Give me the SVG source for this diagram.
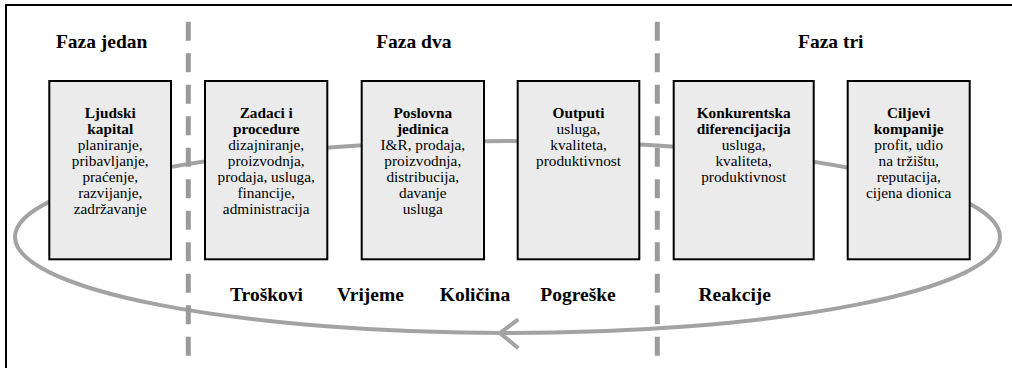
<svg xmlns="http://www.w3.org/2000/svg" width="1012" height="368" viewBox="0 0 1012 368">
<style>
.box{fill:#ebebeb;stroke:#000;stroke-width:2}
text{font-family:'Liberation Serif','Tinos','Times New Roman','DejaVu Serif',serif;fill:#000;text-anchor:middle}
.t{font-size:15.3px}
.b{font-weight:bold}
.h{font-size:19.5px;font-weight:bold}
.loop{fill:none;stroke:#a3a3a3;stroke-width:4}
.dash{stroke:#9a9a9a;stroke-width:5;stroke-dasharray:19 12.5}
</style>
<rect x="6" y="5" width="1012" height="372" fill="#fff" stroke="#000" stroke-width="2"/>
<g id="connectors">
<ellipse class="loop" cx="507.5" cy="237" rx="492.5" ry="96"/>
<polyline class="loop" points="518.3,319.3 500,333 518.3,348.3"/>
</g>
<g id="dividers">
<line class="dash" x1="188.3" y1="21.7" x2="188.3" y2="357"/>
<line class="dash" x1="657.3" y1="21.7" x2="657.3" y2="357"/>
</g>
<g id="headings">
<text class="h" x="101.7" y="48.3" font-family="Liberation Serif, serif">Faza jedan</text>
<text class="h" x="413.8" y="48.3" font-family="Liberation Serif, serif">Faza dva</text>
<text class="h" x="830.8" y="48.3" font-family="Liberation Serif, serif">Faza tri</text>
</g>
<g id="node-ljudski-kapital">
<rect class="box" x="49.3" y="81" width="121.7" height="178.3"/>
<text class="t" x="110.2"><tspan class="b" x="110.2" y="118.3">Ljudski</tspan><tspan class="b" x="110.2" y="134.3">kapital</tspan><tspan x="110.2" y="150.3">planiranje,</tspan><tspan x="110.2" y="166.3">pribavljanje,</tspan><tspan x="110.2" y="182.3">praćenje,</tspan><tspan x="110.2" y="198.3">razvijanje,</tspan><tspan x="110.2" y="214.3">zadržavanje</tspan></text>
</g>
<g id="node-zadaci">
<rect class="box" x="205" y="81" width="122.3" height="178.3"/>
<text class="t" x="266.2"><tspan class="b" x="266.2" y="118.3">Zadaci i</tspan><tspan class="b" x="266.2" y="134.3">procedure</tspan><tspan x="266.2" y="150.3">dizajniranje,</tspan><tspan x="266.2" y="166.3">proizvodnja,</tspan><tspan x="266.2" y="182.3">prodaja, usluga,</tspan><tspan x="266.2" y="198.3">financije,</tspan><tspan x="266.2" y="214.3">administracija</tspan></text>
</g>
<g id="node-poslovna-jedinica">
<rect class="box" x="361.7" y="81" width="122.3" height="178.3"/>
<text class="t" x="422.8"><tspan class="b" x="422.8" y="118.3">Poslovna</tspan><tspan class="b" x="422.8" y="134.3">jedinica</tspan><tspan x="422.8" y="150.3">I&amp;R, prodaja,</tspan><tspan x="422.8" y="166.3">proizvodnja,</tspan><tspan x="422.8" y="182.3">distribucija,</tspan><tspan x="422.8" y="198.3">davanje</tspan><tspan x="422.8" y="214.3">usluga</tspan></text>
</g>
<g id="node-outputi">
<rect class="box" x="517.7" y="81" width="121.6" height="178.3"/>
<text class="t" x="578.5"><tspan class="b" x="578.5" y="118.3">Outputi</tspan><tspan x="578.5" y="134.3">usluga,</tspan><tspan x="578.5" y="150.3">kvaliteta,</tspan><tspan x="578.5" y="166.3">produktivnost</tspan></text>
</g>
<g id="node-konkurentska">
<rect class="box" x="673.7" y="81" width="140" height="178.3"/>
<text class="t" x="743.7"><tspan class="b" x="743.7" y="118.3">Konkurentska</tspan><tspan class="b" x="743.7" y="134.3">diferencijacija</tspan><tspan x="743.7" y="150.3">usluga,</tspan><tspan x="743.7" y="166.3">kvaliteta,</tspan><tspan x="743.7" y="182.3">produktivnost</tspan></text>
</g>
<g id="node-ciljevi">
<rect class="box" x="847.7" y="81" width="122" height="178.3"/>
<text class="t" x="908.7"><tspan class="b" x="908.7" y="118.3">Ciljevi</tspan><tspan class="b" x="908.7" y="134.3">kompanije</tspan><tspan x="908.7" y="150.3">profit, udio</tspan><tspan x="908.7" y="166.3">na tržištu,</tspan><tspan x="908.7" y="182.3">reputacija,</tspan><tspan x="908.7" y="198.3">cijena dionica</tspan></text>
</g>
<g id="measures">
<text class="h" x="266.5" y="301">Troškovi</text>
<text class="h" x="370.5" y="301">Vrijeme</text>
<text class="h" x="475" y="301">Količina</text>
<text class="h" x="578" y="301">Pogreške</text>
<text class="h" x="734.7" y="301">Reakcije</text>
</g>
</svg>
